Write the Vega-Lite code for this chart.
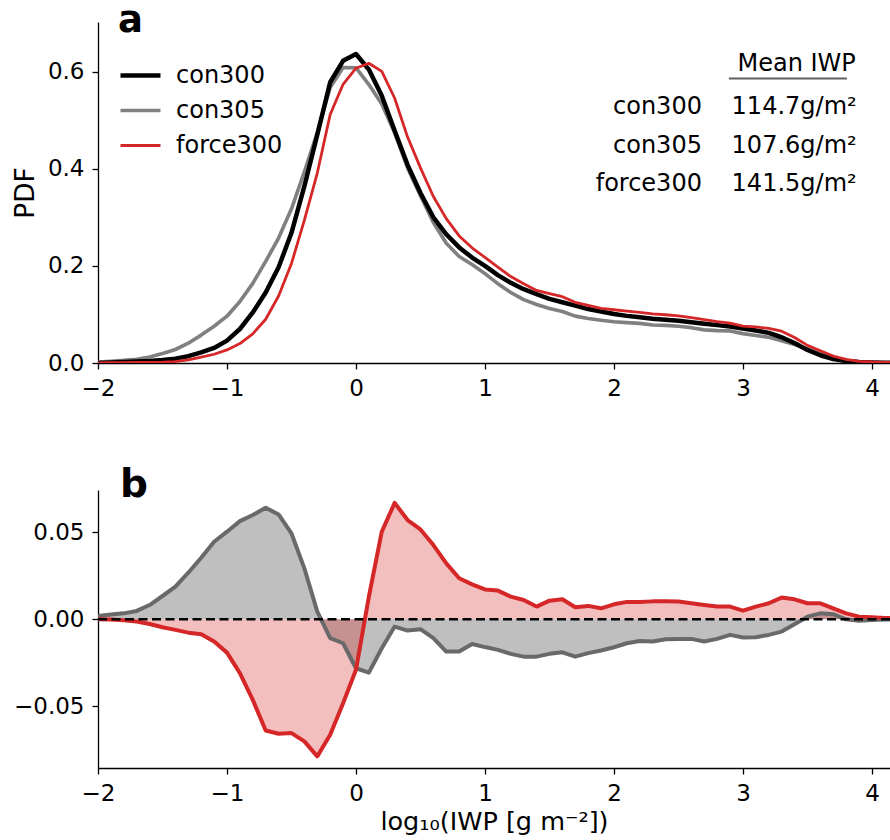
{
"$schema": "https://vega.github.io/schema/vega-lite/v6.json",
"background": "white",
"padding": {"left": 12, "top": 2, "right": 0, "bottom": 2},
"bounds": "flush",
"spacing": 127,
"config": {
 "view": {"stroke": null},
 "font": "DejaVu Sans",
 "axis": {"grid": false, "domainColor": "#000", "domainWidth": 1.3, "tickColor": "#000", "tickWidth": 1.3, "tickSize": 6, "labelFont": "DejaVu Sans", "labelFontSize": 23, "labelColor": "#000", "labelPadding": 8, "titleFont": "DejaVu Sans", "titleFontSize": 26.5, "titleFontWeight": "normal", "titleColor": "#000", "labelFlush": false, "labelOverlap": false},
 "text": {"font": "DejaVu Sans", "fontSize": 24, "color": "#000"}
},
"datasets": {
 "pdf": [
{"x":-2,"run":"con305","pdf":0.0019},{"x":-1.9,"run":"con305","pdf":0.0037},{"x":-1.8,"run":"con305","pdf":0.0054},{"x":-1.7,"run":"con305","pdf":0.0078},{"x":-1.6,"run":"con305","pdf":0.0122},{"x":-1.5,"run":"con305","pdf":0.0194},{"x":-1.4,"run":"con305","pdf":0.0278},{"x":-1.3,"run":"con305","pdf":0.0408},{"x":-1.2,"run":"con305","pdf":0.0574},{"x":-1.1,"run":"con305","pdf":0.0756},{"x":-1,"run":"con305","pdf":0.0964},{"x":-0.9,"run":"con305","pdf":0.1265},{"x":-0.8,"run":"con305","pdf":0.164},{"x":-0.7,"run":"con305","pdf":0.2092},{"x":-0.6,"run":"con305","pdf":0.2573},{"x":-0.5,"run":"con305","pdf":0.3174},{"x":-0.4,"run":"con305","pdf":0.3933},{"x":-0.3,"run":"con305","pdf":0.4744},{"x":-0.2,"run":"con305","pdf":0.5671},{"x":-0.1,"run":"con305","pdf":0.6082},{"x":0,"run":"con305","pdf":0.6078},{"x":0.1,"run":"con305","pdf":0.5733},{"x":0.2,"run":"con305","pdf":0.5333},{"x":0.3,"run":"con305","pdf":0.4738},{"x":0.4,"run":"con305","pdf":0.4015},{"x":0.5,"run":"con305","pdf":0.3443},{"x":0.6,"run":"con305","pdf":0.2891},{"x":0.7,"run":"con305","pdf":0.2464},{"x":0.8,"run":"con305","pdf":0.2194},{"x":0.9,"run":"con305","pdf":0.2028},{"x":1,"run":"con305","pdf":0.184},{"x":1.1,"run":"con305","pdf":0.1634},{"x":1.2,"run":"con305","pdf":0.1451},{"x":1.3,"run":"con305","pdf":0.1305},{"x":1.4,"run":"con305","pdf":0.1205},{"x":1.5,"run":"con305","pdf":0.1121},{"x":1.6,"run":"con305","pdf":0.106},{"x":1.7,"run":"con305","pdf":0.0965},{"x":1.8,"run":"con305","pdf":0.0915},{"x":1.9,"run":"con305","pdf":0.088},{"x":2,"run":"con305","pdf":0.0849},{"x":2.1,"run":"con305","pdf":0.0832},{"x":2.2,"run":"con305","pdf":0.0815},{"x":2.3,"run":"con305","pdf":0.0782},{"x":2.4,"run":"con305","pdf":0.0775},{"x":2.5,"run":"con305","pdf":0.0757},{"x":2.6,"run":"con305","pdf":0.0727},{"x":2.7,"run":"con305","pdf":0.0682},{"x":2.8,"run":"con305","pdf":0.0667},{"x":2.9,"run":"con305","pdf":0.066},{"x":3,"run":"con305","pdf":0.0605},{"x":3.1,"run":"con305","pdf":0.0567},{"x":3.2,"run":"con305","pdf":0.053},{"x":3.3,"run":"con305","pdf":0.0459},{"x":3.4,"run":"con305","pdf":0.0381},{"x":3.5,"run":"con305","pdf":0.0285},{"x":3.6,"run":"con305","pdf":0.0194},{"x":3.7,"run":"con305","pdf":0.0109},{"x":3.8,"run":"con305","pdf":0.004},{"x":3.9,"run":"con305","pdf":0.0012},{"x":4,"run":"con305","pdf":0.0006},{"x":4.1,"run":"con305","pdf":0.0003},{"x":4.2,"run":"con305","pdf":0.0002},
{"x":-2,"run":"con300","pdf":0},{"x":-1.9,"run":"con300","pdf":0.001},{"x":-1.8,"run":"con300","pdf":0.002},{"x":-1.7,"run":"con300","pdf":0.003},{"x":-1.6,"run":"con300","pdf":0.004},{"x":-1.5,"run":"con300","pdf":0.006},{"x":-1.4,"run":"con300","pdf":0.009},{"x":-1.3,"run":"con300","pdf":0.014},{"x":-1.2,"run":"con300","pdf":0.022},{"x":-1.1,"run":"con300","pdf":0.031},{"x":-1,"run":"con300","pdf":0.046},{"x":-0.9,"run":"con300","pdf":0.07},{"x":-0.8,"run":"con300","pdf":0.104},{"x":-0.7,"run":"con300","pdf":0.145},{"x":-0.6,"run":"con300","pdf":0.197},{"x":-0.5,"run":"con300","pdf":0.268},{"x":-0.4,"run":"con300","pdf":0.364},{"x":-0.3,"run":"con300","pdf":0.47},{"x":-0.2,"run":"con300","pdf":0.578},{"x":-0.1,"run":"con300","pdf":0.622},{"x":0,"run":"con300","pdf":0.636},{"x":0.1,"run":"con300","pdf":0.604},{"x":0.2,"run":"con300","pdf":0.55},{"x":0.3,"run":"con300","pdf":0.478},{"x":0.4,"run":"con300","pdf":0.408},{"x":0.5,"run":"con300","pdf":0.35},{"x":0.6,"run":"con300","pdf":0.3},{"x":0.7,"run":"con300","pdf":0.265},{"x":0.8,"run":"con300","pdf":0.238},{"x":0.9,"run":"con300","pdf":0.217},{"x":1,"run":"con300","pdf":0.2},{"x":1.1,"run":"con300","pdf":0.181},{"x":1.2,"run":"con300","pdf":0.165},{"x":1.3,"run":"con300","pdf":0.152},{"x":1.4,"run":"con300","pdf":0.142},{"x":1.5,"run":"con300","pdf":0.132},{"x":1.6,"run":"con300","pdf":0.125},{"x":1.7,"run":"con300","pdf":0.118},{"x":1.8,"run":"con300","pdf":0.111},{"x":1.9,"run":"con300","pdf":0.106},{"x":2,"run":"con300","pdf":0.101},{"x":2.1,"run":"con300","pdf":0.097},{"x":2.2,"run":"con300","pdf":0.094},{"x":2.3,"run":"con300","pdf":0.091},{"x":2.4,"run":"con300","pdf":0.089},{"x":2.5,"run":"con300","pdf":0.087},{"x":2.6,"run":"con300","pdf":0.084},{"x":2.7,"run":"con300","pdf":0.081},{"x":2.8,"run":"con300","pdf":0.078},{"x":2.9,"run":"con300","pdf":0.075},{"x":3,"run":"con300","pdf":0.071},{"x":3.1,"run":"con300","pdf":0.067},{"x":3.2,"run":"con300","pdf":0.062},{"x":3.3,"run":"con300","pdf":0.053},{"x":3.4,"run":"con300","pdf":0.041},{"x":3.5,"run":"con300","pdf":0.027},{"x":3.6,"run":"con300","pdf":0.016},{"x":3.7,"run":"con300","pdf":0.008},{"x":3.8,"run":"con300","pdf":0.004},{"x":3.9,"run":"con300","pdf":0.002},{"x":4,"run":"con300","pdf":0.001},{"x":4.1,"run":"con300","pdf":0.0005},{"x":4.2,"run":"con300","pdf":0.0003},
{"x":-2,"run":"force300","pdf":0},{"x":-1.9,"run":"force300","pdf":0.0005},{"x":-1.8,"run":"force300","pdf":0.0008},{"x":-1.7,"run":"force300","pdf":0.001},{"x":-1.6,"run":"force300","pdf":0.0013},{"x":-1.5,"run":"force300","pdf":0.0018},{"x":-1.4,"run":"force300","pdf":0.003},{"x":-1.3,"run":"force300","pdf":0.0063},{"x":-1.2,"run":"force300","pdf":0.012},{"x":-1.1,"run":"force300","pdf":0.018},{"x":-1,"run":"force300","pdf":0.027},{"x":-0.9,"run":"force300","pdf":0.04},{"x":-0.8,"run":"force300","pdf":0.06},{"x":-0.7,"run":"force300","pdf":0.09},{"x":-0.6,"run":"force300","pdf":0.138},{"x":-0.5,"run":"force300","pdf":0.205},{"x":-0.4,"run":"force300","pdf":0.294},{"x":-0.3,"run":"force300","pdf":0.391},{"x":-0.2,"run":"force300","pdf":0.5115},{"x":-0.1,"run":"force300","pdf":0.5737},{"x":0,"run":"force300","pdf":0.6069},{"x":0.1,"run":"force300","pdf":0.617},{"x":0.2,"run":"force300","pdf":0.6004},{"x":0.3,"run":"force300","pdf":0.545},{"x":0.4,"run":"force300","pdf":0.4651},{"x":0.5,"run":"force300","pdf":0.4017},{"x":0.6,"run":"force300","pdf":0.3427},{"x":0.7,"run":"force300","pdf":0.2972},{"x":0.8,"run":"force300","pdf":0.2616},{"x":0.9,"run":"force300","pdf":0.2371},{"x":1,"run":"force300","pdf":0.2172},{"x":1.1,"run":"force300","pdf":0.1975},{"x":1.2,"run":"force300","pdf":0.178},{"x":1.3,"run":"force300","pdf":0.1631},{"x":1.4,"run":"force300","pdf":0.1493},{"x":1.5,"run":"force300","pdf":0.1427},{"x":1.6,"run":"force300","pdf":0.1365},{"x":1.7,"run":"force300","pdf":0.1249},{"x":1.8,"run":"force300","pdf":0.1187},{"x":1.9,"run":"force300","pdf":0.1123},{"x":2,"run":"force300","pdf":0.1096},{"x":2.1,"run":"force300","pdf":0.107},{"x":2.2,"run":"force300","pdf":0.104},{"x":2.3,"run":"force300","pdf":0.1013},{"x":2.4,"run":"force300","pdf":0.0993},{"x":2.5,"run":"force300","pdf":0.0972},{"x":2.6,"run":"force300","pdf":0.0932},{"x":2.7,"run":"force300","pdf":0.0892},{"x":2.8,"run":"force300","pdf":0.0853},{"x":2.9,"run":"force300","pdf":0.0823},{"x":3,"run":"force300","pdf":0.076},{"x":3.1,"run":"force300","pdf":0.0743},{"x":3.2,"run":"force300","pdf":0.0712},{"x":3.3,"run":"force300","pdf":0.0655},{"x":3.4,"run":"force300","pdf":0.0525},{"x":3.5,"run":"force300","pdf":0.0362},{"x":3.6,"run":"force300","pdf":0.0252},{"x":3.7,"run":"force300","pdf":0.0143},{"x":3.8,"run":"force300","pdf":0.0074},{"x":3.9,"run":"force300","pdf":0.0035},{"x":4,"run":"force300","pdf":0.0021},{"x":4.1,"run":"force300","pdf":0.0013},{"x":4.2,"run":"force300","pdf":0.0009}
 ],
 "diff": [
{"x":-2,"run":"con305","d":0.0019},{"x":-1.9,"run":"con305","d":0.0027},{"x":-1.8,"run":"con305","d":0.0034},{"x":-1.7,"run":"con305","d":0.0048},{"x":-1.6,"run":"con305","d":0.0082},{"x":-1.5,"run":"con305","d":0.0134},{"x":-1.4,"run":"con305","d":0.0188},{"x":-1.3,"run":"con305","d":0.0268},{"x":-1.2,"run":"con305","d":0.0354},{"x":-1.1,"run":"con305","d":0.0446},{"x":-1,"run":"con305","d":0.0504},{"x":-0.9,"run":"con305","d":0.0565},{"x":-0.8,"run":"con305","d":0.06},{"x":-0.7,"run":"con305","d":0.0642},{"x":-0.6,"run":"con305","d":0.0603},{"x":-0.5,"run":"con305","d":0.0494},{"x":-0.4,"run":"con305","d":0.0293},{"x":-0.3,"run":"con305","d":0.0044},{"x":-0.2,"run":"con305","d":-0.0109},{"x":-0.1,"run":"con305","d":-0.0138},{"x":0,"run":"con305","d":-0.0282},{"x":0.1,"run":"con305","d":-0.0307},{"x":0.2,"run":"con305","d":-0.0167},{"x":0.3,"run":"con305","d":-0.0042},{"x":0.4,"run":"con305","d":-0.0065},{"x":0.5,"run":"con305","d":-0.0057},{"x":0.6,"run":"con305","d":-0.0109},{"x":0.7,"run":"con305","d":-0.0186},{"x":0.8,"run":"con305","d":-0.0186},{"x":0.9,"run":"con305","d":-0.0142},{"x":1,"run":"con305","d":-0.016},{"x":1.1,"run":"con305","d":-0.0176},{"x":1.2,"run":"con305","d":-0.0199},{"x":1.3,"run":"con305","d":-0.0215},{"x":1.4,"run":"con305","d":-0.0215},{"x":1.5,"run":"con305","d":-0.0199},{"x":1.6,"run":"con305","d":-0.019},{"x":1.7,"run":"con305","d":-0.0215},{"x":1.8,"run":"con305","d":-0.0195},{"x":1.9,"run":"con305","d":-0.018},{"x":2,"run":"con305","d":-0.0161},{"x":2.1,"run":"con305","d":-0.0138},{"x":2.2,"run":"con305","d":-0.0125},{"x":2.3,"run":"con305","d":-0.0128},{"x":2.4,"run":"con305","d":-0.0115},{"x":2.5,"run":"con305","d":-0.0113},{"x":2.6,"run":"con305","d":-0.0113},{"x":2.7,"run":"con305","d":-0.0128},{"x":2.8,"run":"con305","d":-0.0113},{"x":2.9,"run":"con305","d":-0.009},{"x":3,"run":"con305","d":-0.0105},{"x":3.1,"run":"con305","d":-0.0103},{"x":3.2,"run":"con305","d":-0.009},{"x":3.3,"run":"con305","d":-0.0071},{"x":3.4,"run":"con305","d":-0.0029},{"x":3.5,"run":"con305","d":0.0015},{"x":3.6,"run":"con305","d":0.0034},{"x":3.7,"run":"con305","d":0.0029},{"x":3.8,"run":"con305","d":0},{"x":3.9,"run":"con305","d":-0.0008},{"x":4,"run":"con305","d":-0.0004},{"x":4.1,"run":"con305","d":-0.0002},{"x":4.2,"run":"con305","d":-0.0001},
{"x":-2,"run":"force300","d":0},{"x":-1.9,"run":"force300","d":-0.0002},{"x":-1.8,"run":"force300","d":-0.0005},{"x":-1.7,"run":"force300","d":-0.0013},{"x":-1.6,"run":"force300","d":-0.0027},{"x":-1.5,"run":"force300","d":-0.0046},{"x":-1.4,"run":"force300","d":-0.0061},{"x":-1.3,"run":"force300","d":-0.0077},{"x":-1.2,"run":"force300","d":-0.0086},{"x":-1.1,"run":"force300","d":-0.0128},{"x":-1,"run":"force300","d":-0.0192},{"x":-0.9,"run":"force300","d":-0.031},{"x":-0.8,"run":"force300","d":-0.0464},{"x":-0.7,"run":"force300","d":-0.064},{"x":-0.6,"run":"force300","d":-0.0659},{"x":-0.5,"run":"force300","d":-0.0655},{"x":-0.4,"run":"force300","d":-0.0703},{"x":-0.3,"run":"force300","d":-0.0789},{"x":-0.2,"run":"force300","d":-0.0665},{"x":-0.1,"run":"force300","d":-0.0483},{"x":0,"run":"force300","d":-0.0291},{"x":0.1,"run":"force300","d":0.013},{"x":0.2,"run":"force300","d":0.0504},{"x":0.3,"run":"force300","d":0.067},{"x":0.4,"run":"force300","d":0.0571},{"x":0.5,"run":"force300","d":0.0517},{"x":0.6,"run":"force300","d":0.0427},{"x":0.7,"run":"force300","d":0.0322},{"x":0.8,"run":"force300","d":0.0236},{"x":0.9,"run":"force300","d":0.0201},{"x":1,"run":"force300","d":0.0172},{"x":1.1,"run":"force300","d":0.0165},{"x":1.2,"run":"force300","d":0.013},{"x":1.3,"run":"force300","d":0.0111},{"x":1.4,"run":"force300","d":0.0073},{"x":1.5,"run":"force300","d":0.0107},{"x":1.6,"run":"force300","d":0.0115},{"x":1.7,"run":"force300","d":0.0069},{"x":1.8,"run":"force300","d":0.0077},{"x":1.9,"run":"force300","d":0.0063},{"x":2,"run":"force300","d":0.0086},{"x":2.1,"run":"force300","d":0.01},{"x":2.2,"run":"force300","d":0.01},{"x":2.3,"run":"force300","d":0.0103},{"x":2.4,"run":"force300","d":0.0103},{"x":2.5,"run":"force300","d":0.0102},{"x":2.6,"run":"force300","d":0.0092},{"x":2.7,"run":"force300","d":0.0082},{"x":2.8,"run":"force300","d":0.0073},{"x":2.9,"run":"force300","d":0.0073},{"x":3,"run":"force300","d":0.005},{"x":3.1,"run":"force300","d":0.0073},{"x":3.2,"run":"force300","d":0.0092},{"x":3.3,"run":"force300","d":0.0125},{"x":3.4,"run":"force300","d":0.0115},{"x":3.5,"run":"force300","d":0.0092},{"x":3.6,"run":"force300","d":0.0092},{"x":3.7,"run":"force300","d":0.0063},{"x":3.8,"run":"force300","d":0.0034},{"x":3.9,"run":"force300","d":0.0015},{"x":4,"run":"force300","d":0.0011},{"x":4.1,"run":"force300","d":0.0008},{"x":4.2,"run":"force300","d":0.0006}
 ]
},
"vconcat": [
 {
  "width": 792, "height": 341,
  "layer": [
   {"data": {"name": "pdf"}, "mark": {"type": "line", "clip": true, "strokeJoin": "round"},
    "encoding": {
     "x": {"field": "x", "type": "quantitative", "scale": {"domain": [-2, 4.14], "nice": false, "zero": false}, "axis": {"values": [-2, -1, 0, 1, 2, 3, 4], "format": "d", "title": null}},
     "y": {"field": "pdf", "type": "quantitative", "scale": {"domain": [0, 0.702], "nice": false, "zero": false}, "axis": {"values": [0, 0.2, 0.4, 0.6], "format": ".1f", "title": "PDF", "titlePadding": 8}},
     "color": {"field": "run", "type": "nominal", "scale": {"domain": ["con300", "con305", "force300"], "range": ["#000000", "#808080", "#d62728"]},
      "legend": {"title": null, "orient": "none", "legendX": 20, "legendY": 36, "symbolType": "stroke", "symbolSize": 1600, "labelFontSize": 24, "labelFont": "DejaVu Sans", "labelColor": "#000", "labelOffset": 13, "clipHeight": 35, "rowPadding": 0, "padding": 0, "symbolOpacity": 1}},
     "strokeWidth": {"field": "run", "type": "nominal", "scale": {"domain": ["con300", "con305", "force300"], "range": [4.5, 2.8, 2.8]},
      "legend": {"title": null, "orient": "none", "legendX": 20, "legendY": 36, "symbolType": "stroke", "symbolSize": 1600, "labelFontSize": 24, "labelFont": "DejaVu Sans", "labelColor": "#000", "labelOffset": 13, "clipHeight": 35, "rowPadding": 0, "padding": 0, "symbolOpacity": 1}}
    }},
   {"data": {"values": [{}]}, "mark": {"type": "text", "text": "a", "fontSize": 37, "fontWeight": "bold", "align": "left", "baseline": "alphabetic"}, "encoding": {"x": {"datum": -1.845}, "y": {"datum": 0.6804}}},
   {"data": {"values": [{}]}, "mark": {"type": "text", "text": "Mean IWP", "align": "center", "baseline": "alphabetic"}, "encoding": {"x": {"datum": 3.416}, "y": {"datum": 0.6007}}},
   {"data": {"values": [{}]}, "mark": {"type": "rule", "color": "#606060", "strokeWidth": 2}, "encoding": {"x": {"datum": 2.891}, "x2": {"datum": 3.806}, "y": {"datum": 0.5857}}},
   {"data": {"values": [{}]}, "mark": {"type": "text", "text": "con300", "align": "right", "baseline": "alphabetic"}, "encoding": {"x": {"datum": 2.682}, "y": {"datum": 0.5116}}},
   {"data": {"values": [{}]}, "mark": {"type": "text", "text": "con305", "align": "right", "baseline": "alphabetic"}, "encoding": {"x": {"datum": 2.682}, "y": {"datum": 0.4327}}},
   {"data": {"values": [{}]}, "mark": {"type": "text", "text": "force300", "align": "right", "baseline": "alphabetic"}, "encoding": {"x": {"datum": 2.682}, "y": {"datum": 0.3537}}},
   {"data": {"values": [{}]}, "mark": {"type": "text", "text": "114.7g/m²", "align": "left", "baseline": "alphabetic"}, "encoding": {"x": {"datum": 2.912}, "y": {"datum": 0.5116}}},
   {"data": {"values": [{}]}, "mark": {"type": "text", "text": "107.6g/m²", "align": "left", "baseline": "alphabetic"}, "encoding": {"x": {"datum": 2.912}, "y": {"datum": 0.4327}}},
   {"data": {"values": [{}]}, "mark": {"type": "text", "text": "141.5g/m²", "align": "left", "baseline": "alphabetic"}, "encoding": {"x": {"datum": 2.912}, "y": {"datum": 0.3537}}}
  ]
 },
 {
  "width": 792, "height": 278,
  "layer": [
   {"data": {"name": "diff"}, "transform": [{"filter": "datum.run == 'con305'"}], "mark": {"type": "area", "color": "#808080", "opacity": 0.5, "clip": true},
    "encoding": {
     "x": {"field": "x", "type": "quantitative", "scale": {"domain": [-2, 4.14], "nice": false, "zero": false}, "axis": {"values": [-2, -1, 0, 1, 2, 3, 4], "format": "d", "title": "log₁₀(IWP [g m⁻²])", "titlePadding": 4, "titleFontSize": 25.5}},
     "y": {"field": "d", "type": "quantitative", "scale": {"domain": [-0.0856, 0.0744], "nice": false, "zero": false}, "axis": {"values": [-0.05, 0, 0.05], "format": ".2f", "title": null}},
     "y2": {"datum": 0}
    }},
   {"data": {"name": "diff"}, "transform": [{"filter": "datum.run == 'force300'"}], "mark": {"type": "area", "color": "#d62728", "opacity": 0.3, "clip": true},
    "encoding": {"x": {"field": "x", "type": "quantitative"}, "y": {"field": "d", "type": "quantitative"}, "y2": {"datum": 0}}},
   {"data": {"name": "diff"}, "transform": [{"filter": "datum.run == 'con305'"}], "mark": {"type": "line", "color": "#696969", "strokeWidth": 4, "strokeJoin": "round", "clip": true},
    "encoding": {"x": {"field": "x", "type": "quantitative"}, "y": {"field": "d", "type": "quantitative"}}},
   {"data": {"name": "diff"}, "transform": [{"filter": "datum.run == 'force300'"}], "mark": {"type": "line", "color": "#d62728", "strokeWidth": 4, "strokeJoin": "round", "clip": true},
    "encoding": {"x": {"field": "x", "type": "quantitative"}, "y": {"field": "d", "type": "quantitative"}}},
   {"data": {"values": [{}]}, "mark": {"type": "rule", "color": "#000", "strokeWidth": 2.5, "strokeDash": [9, 4.5]}, "encoding": {"y": {"datum": 0}}},
   {"data": {"values": [{}]}, "mark": {"type": "text", "text": "b", "fontSize": 39, "fontWeight": "bold", "align": "left", "baseline": "alphabetic"}, "encoding": {"x": {"datum": -1.829}, "y": {"datum": 0.0704}}}
  ]
 }
]
}
